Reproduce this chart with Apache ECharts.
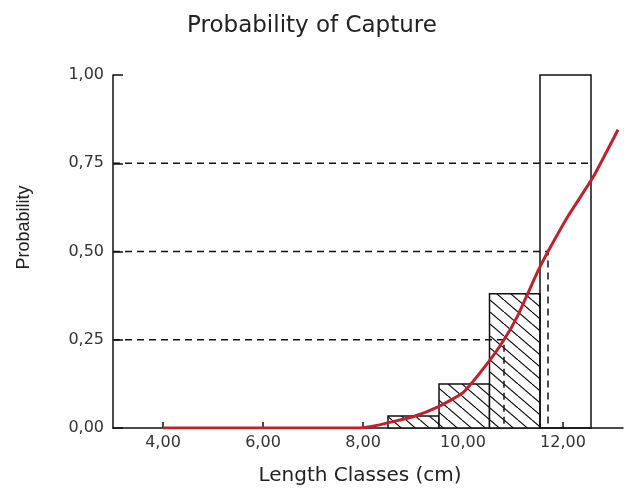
<!DOCTYPE html>
<html>
<head>
<meta charset="utf-8">
<title>Probability of Capture</title>
<script src="https://cdn.jsdelivr.net/npm/echarts@6/dist/echarts.min.js"></script>
<style>
  html, body { margin: 0; padding: 0; background: #fff; }
  #chart { width: 624px; height: 491px; }
</style>
</head>
<body>
<div id="chart"></div>
<script>
// length class bins (cm) and observed probabilities
const binStart = [8.5, 9.52, 10.53, 11.54]
const binEnd = [9.52, 10.53, 11.54, 12.56]
const binProb = [0.034, 0.125, 0.38, 1.0]
const binHatched = [1, 1, 1, 0]

// fitted selection curve
const curveX = [4, 5, 6, 7, 7.9, 8.2, 8.6, 9, 9.5, 10, 10.5, 10.82, 11.1, 11.5, 11.7, 12.1, 12.6, 13.1]
const curveY = [0, 0, 0, 0, 0, 0.005, 0.018, 0.032, 0.06, 0.1, 0.185, 0.25, 0.32, 0.445, 0.5, 0.6, 0.71, 0.845]

// L25 / L50 / L75 guide lines
const guideLevel = [0.25, 0.5, 0.75]
const guideLength = [10.82, 11.7, 12.5]
const guideDrop = [true, true, false]

const xTicks = [4, 6, 8, 10, 12]

const fmt = v => v.toFixed(2).replace('.', ',')

// diagonal hatch pattern
const hatch = document.createElement('canvas')
hatch.width = 14
hatch.height = 12
const ctx = hatch.getContext('2d')
ctx.fillStyle = '#fff'
ctx.fillRect(0, 0, 14, 12)
ctx.strokeStyle = '#111'
ctx.lineWidth = 1.2
for (let k = -1; k <= 1; k++) {
  ctx.beginPath()
  ctx.moveTo(k * 14, 0)
  ctx.lineTo(k * 14 + 14, 12)
  ctx.stroke()
}

const barData = binStart.map((s, i) => [s, binEnd[i], binProb[i], binHatched[i]])
const curveData = curveX.map((x, i) => [x, curveY[i]])

const guideSeries = guideLevel.map((lv, i) => {
  const pts = [[3, lv], [guideLength[i], lv]]
  if (guideDrop[i]) pts.push([guideLength[i], 0])
  return {
    type: 'line',
    data: pts,
    symbol: 'none',
    silent: true,
    lineStyle: { color: '#111', width: 1.5, type: [7, 5] },
    z: 3
  }
})

const chart = echarts.init(document.getElementById('chart'))
chart.setOption({
  animation: false,
  backgroundColor: '#fff',
  textStyle: { fontFamily: 'DejaVu Sans' },
  title: {
    text: 'Probability of Capture',
    left: 'center',
    top: 10,
    textStyle: { fontSize: 23, fontWeight: 'normal', color: '#222', fontFamily: 'DejaVu Sans' }
  },
  grid: { left: 113, right: 1, top: 75, bottom: 58 },
  xAxis: {
    type: 'value',
    min: 3,
    max: 13.2,
    name: 'Length Classes (cm)',
    nameLocation: 'middle',
    nameGap: 38,
    nameTextStyle: { fontSize: 20, color: '#222', padding: [0, 16, 0, 0] },
    axisLine: { show: true, lineStyle: { color: '#111', width: 1.5 } },
    axisTick: { show: true, inside: true, length: 6, customValues: xTicks, lineStyle: { color: '#111', width: 1.5 } },
    axisLabel: { customValues: xTicks, formatter: fmt, fontSize: 16, color: '#333', margin: 7 },
    splitLine: { show: false }
  },
  yAxis: {
    type: 'value',
    min: 0,
    max: 1,
    interval: 0.25,
    name: 'Probability',
    nameLocation: 'middle',
    nameGap: 80,
    nameTextStyle: { fontSize: 18, color: '#222', fontFamily: 'Liberation Sans', padding: [0, 0, 0, 48] },
    axisLine: { show: true, lineStyle: { color: '#111', width: 1.5 } },
    axisTick: { show: true, inside: true, length: 10, lineStyle: { color: '#111', width: 1.5 } },
    axisLabel: { formatter: fmt, fontSize: 16, color: '#333', margin: 9 },
    splitLine: { show: false }
  },
  series: [
    {
      type: 'custom',
      data: barData,
      z: 2,
      renderItem: function (params, api) {
        const p0 = api.coord([api.value(0), api.value(2)])
        const p1 = api.coord([api.value(1), 0])
        return {
          type: 'rect',
          shape: { x: p0[0], y: p0[1], width: p1[0] - p0[0], height: p1[1] - p0[1] },
          style: {
            fill: api.value(3) ? { image: hatch, repeat: 'repeat' } : 'rgba(0,0,0,0)',
            stroke: '#111',
            lineWidth: 1.5
          }
        }
      }
    },
    ...guideSeries,
    {
      type: 'line',
      data: curveData,
      symbol: 'none',
      smooth: 0.15,
      lineStyle: { color: '#c41f2a', width: 3 },
      z: 5
    }
  ]
})
</script>
</body>
</html>
